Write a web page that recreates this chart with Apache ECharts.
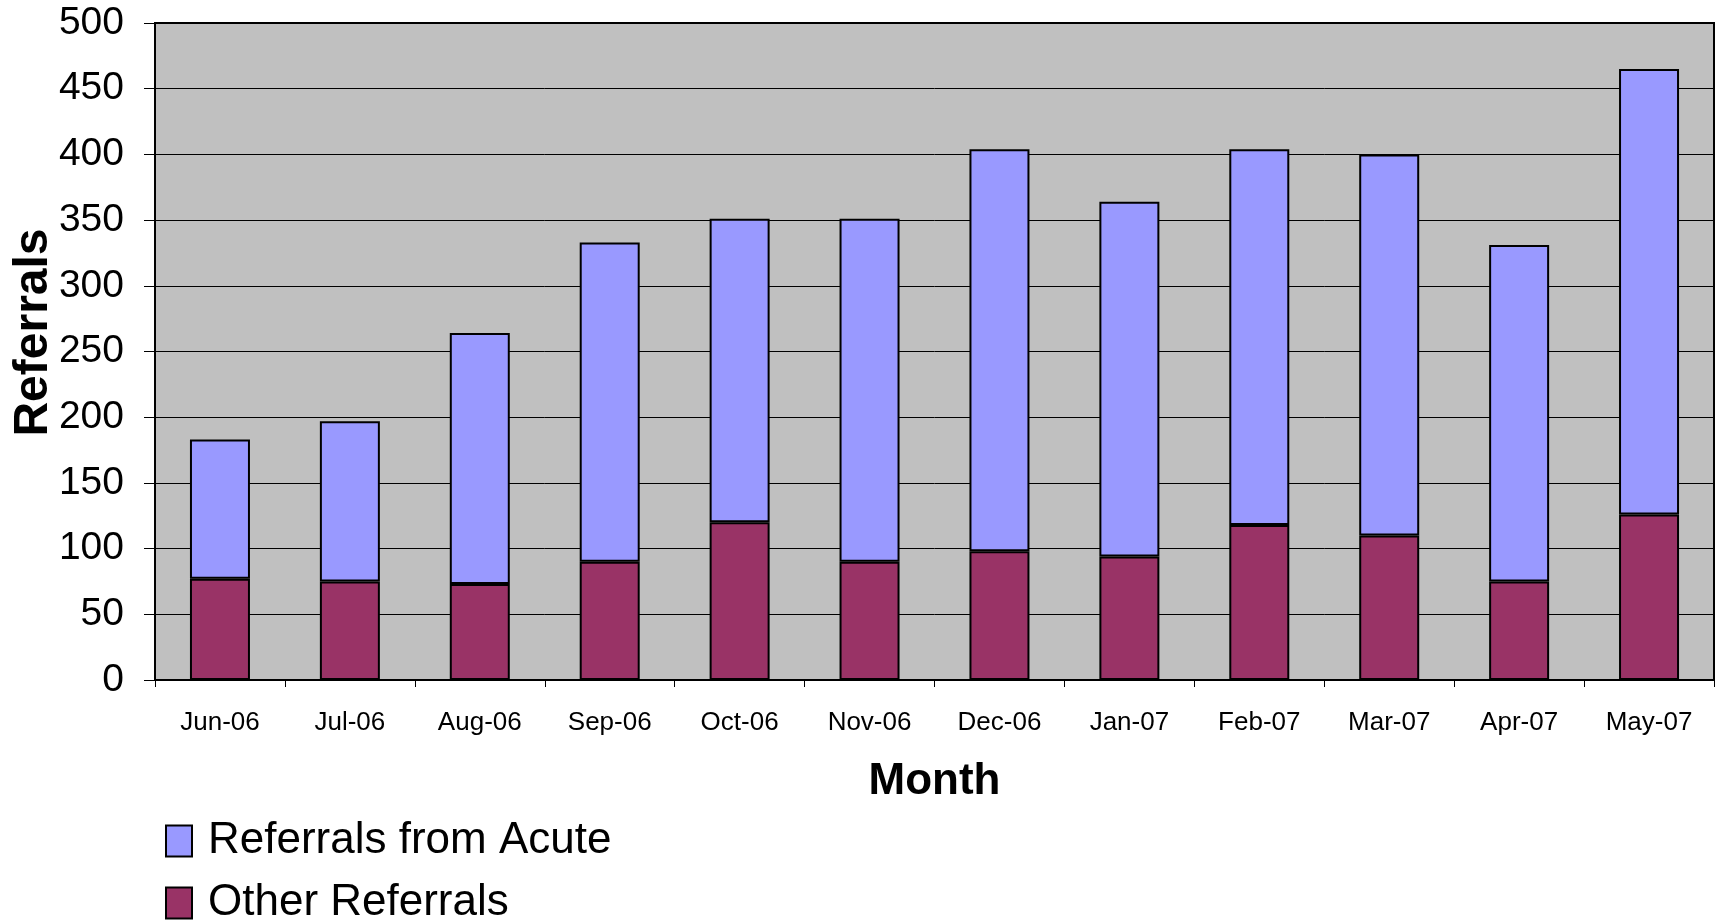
<!DOCTYPE html>
<html>
<head>
<meta charset="utf-8">
<script src="https://cdn.jsdelivr.net/npm/echarts@6/dist/echarts.min.js"></script>
<style>
html,body{margin:0;padding:0;background:#fff;}
#c{width:1722px;height:920px;}
</style>
</head>
<body>
<div id="c"></div>
<script>
const months = ["Jun-06","Jul-06","Aug-06","Sep-06","Oct-06","Nov-06","Dec-06","Jan-07","Feb-07","Mar-07","Apr-07","May-07"];
const otherReferrals = [77, 75, 73, 90, 120, 90, 98, 94, 118, 110, 75, 126];
const acuteReferrals = [106, 122, 191, 243, 231, 261, 306, 270, 286, 290, 256, 339];
const yTicks = {min: 0, max: 500, interval: 50};

const chart = echarts.init(document.getElementById('c'), null, {renderer: 'canvas'});
const font = '"Liberation Sans", Arial, sans-serif';
const legendBase = {
  orient: 'vertical', left: 165, padding: 0,
  itemWidth: 26, itemHeight: 31, itemGap: 0,
  icon: 'rect',
  textStyle: {fontFamily: font, fontSize: 44, color: '#000', lineHeight: 46, padding: [0,0,0,11]}
};
chart.setOption({
  animation: false,
  backgroundColor: '#ffffff',
  grid: {
    left: 155, right: 8, top: 23, bottom: 240,
    show: true, backgroundColor: '#c0c0c0', borderColor: '#000', borderWidth: 2,
    containLabel: false, outerBoundsMode: 'none'
  },
  legend: [
    Object.assign({}, legendBase, {top: 818, data: ['Referrals from Acute']}),
    Object.assign({}, legendBase, {top: 880, data: ['Other Referrals']})
  ],
  xAxis: {
    type: 'category', data: months,
    name: 'Month', nameLocation: 'middle', nameGap: 80, nameMoveOverlap: false,
    nameTextStyle: {fontFamily: font, fontSize: 44, fontWeight: 'bold', color: '#000'},
    axisLine: {show: true, lineStyle: {color: '#000', width: 2}},
    axisTick: {show: true, length: 7, alignWithLabel: false, lineStyle: {color: '#000', width: 1}},
    axisLabel: {fontFamily: font, fontSize: 26, color: '#000', margin: 30, interval: 0}
  },
  yAxis: {
    type: 'value', min: yTicks.min, max: yTicks.max, interval: yTicks.interval,
    name: 'Referrals', nameLocation: 'middle', nameRotate: 90, nameGap: 97, nameMoveOverlap: false,
    nameTextStyle: {fontFamily: font, fontSize: 48, fontWeight: 'bold', color: '#000', padding: [0,0,0,38]},
    axisLine: {show: true, lineStyle: {color: '#000', width: 2}},
    axisTick: {show: true, inside: false, length: 11, lineStyle: {color: '#000', width: 1}},
    axisLabel: {fontFamily: font, fontSize: 39, color: '#000', margin: 31},
    splitLine: {show: true, lineStyle: {color: '#000', width: 1}}
  },
  series: [
    {
      name: 'Other Referrals', type: 'bar', stack: 'total', data: otherReferrals,
      barWidth: 60,
      itemStyle: {color: '#993366', borderColor: '#000', borderWidth: 2}
    },
    {
      name: 'Referrals from Acute', type: 'bar', stack: 'total', data: acuteReferrals,
      barWidth: 60,
      itemStyle: {color: '#9999ff', borderColor: '#000', borderWidth: 2}
    }
  ]
});
</script>
</body>
</html>
